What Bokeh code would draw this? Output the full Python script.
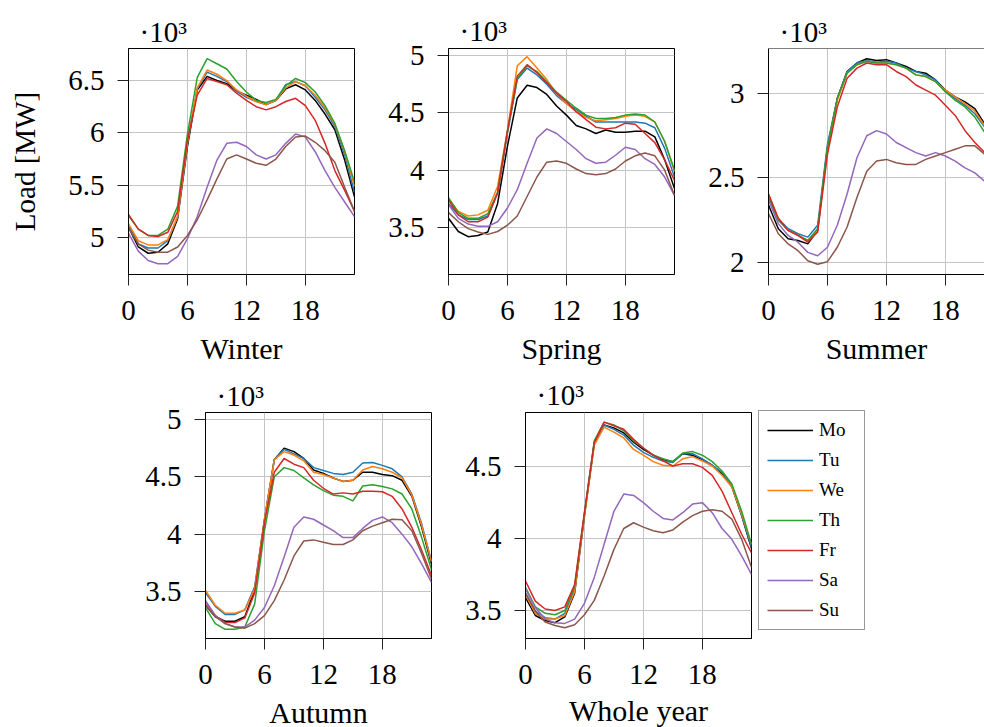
from bokeh.plotting import figure
from bokeh.layouts import row, column
from bokeh.models import (Range1d, FixedTicker, CustomJSTickFormatter,
                          Legend, LegendItem, Span, Title)
from bokeh.embed import file_html
from bokeh.resources import INLINE

FONT = "Liberation Serif"

hours = list(range(24))
days = ["Mo", "Tu", "We", "Th", "Fr", "Sa", "Su"]
colors = ["#000000", "#1f77b4", "#ff7f0e", "#2ca02c", "#d62728", "#9467bd", "#8c564b"]

# Load values in 10^3 MW, hours 0..23
winter_mo = [5.10, 4.91, 4.85, 4.86, 4.94, 5.18, 5.87, 6.41, 6.54, 6.50, 6.47, 6.40, 6.36, 6.32, 6.27, 6.31, 6.42, 6.46, 6.41, 6.31, 6.18, 6.03, 5.74, 5.39]
winter_tu = [5.12, 4.94, 4.90, 4.90, 4.97, 5.20, 5.90, 6.42, 6.58, 6.54, 6.49, 6.40, 6.34, 6.30, 6.27, 6.31, 6.46, 6.49, 6.45, 6.34, 6.22, 6.06, 5.79, 5.43]
winter_we = [5.13, 4.97, 4.93, 4.93, 4.98, 5.20, 5.91, 6.43, 6.60, 6.56, 6.50, 6.41, 6.35, 6.30, 6.27, 6.31, 6.43, 6.49, 6.45, 6.36, 6.24, 6.08, 5.82, 5.49]
winter_th = [5.21, 5.08, 5.02, 5.02, 5.08, 5.30, 5.99, 6.53, 6.71, 6.66, 6.61, 6.49, 6.39, 6.31, 6.29, 6.32, 6.45, 6.52, 6.48, 6.39, 6.26, 6.09, 5.83, 5.53]
winter_fr = [5.22, 5.08, 5.02, 5.01, 5.05, 5.25, 5.93, 6.36, 6.52, 6.49, 6.46, 6.38, 6.31, 6.25, 6.22, 6.25, 6.30, 6.33, 6.26, 6.12, 5.90, 5.64, 5.45, 5.25]
winter_sa = [5.04, 4.87, 4.78, 4.75, 4.75, 4.82, 4.99, 5.20, 5.48, 5.74, 5.90, 5.91, 5.87, 5.79, 5.75, 5.79, 5.90, 5.99, 5.96, 5.82, 5.64, 5.48, 5.34, 5.20]
winter_su = [5.09, 4.94, 4.88, 4.86, 4.86, 4.91, 5.02, 5.17, 5.36, 5.56, 5.75, 5.79, 5.75, 5.71, 5.69, 5.75, 5.87, 5.96, 5.97, 5.91, 5.83, 5.72, 5.48, 5.25]

spring_mo = [3.58, 3.465, 3.42, 3.43, 3.46, 3.71, 4.21, 4.63, 4.74, 4.72, 4.66, 4.56, 4.48, 4.39, 4.36, 4.32, 4.35, 4.33, 4.33, 4.34, 4.34, 4.29, 4.09, 3.84]
spring_tu = [3.71, 3.61, 3.57, 3.57, 3.60, 3.80, 4.32, 4.79, 4.89, 4.83, 4.75, 4.65, 4.58, 4.53, 4.47, 4.42, 4.42, 4.42, 4.42, 4.42, 4.41, 4.37, 4.19, 3.94]
spring_we = [3.75, 3.64, 3.60, 3.61, 3.65, 3.86, 4.35, 4.91, 4.99, 4.89, 4.79, 4.67, 4.58, 4.51, 4.46, 4.43, 4.44, 4.45, 4.47, 4.48, 4.47, 4.42, 4.25, 3.99]
spring_th = [3.76, 3.63, 3.58, 3.58, 3.62, 3.81, 4.34, 4.80, 4.91, 4.86, 4.77, 4.68, 4.61, 4.54, 4.48, 4.45, 4.45, 4.46, 4.48, 4.49, 4.48, 4.42, 4.25, 4.00]
spring_fr = [3.74, 3.61, 3.55, 3.55, 3.59, 3.80, 4.34, 4.82, 4.92, 4.85, 4.76, 4.67, 4.60, 4.51, 4.44, 4.375, 4.36, 4.37, 4.41, 4.40, 4.32, 4.24, 4.09, 3.91]
spring_sa = [3.70, 3.58, 3.53, 3.51, 3.51, 3.55, 3.67, 3.83, 4.06, 4.28, 4.36, 4.32, 4.25, 4.18, 4.10, 4.06, 4.07, 4.13, 4.20, 4.18, 4.10, 4.05, 3.94, 3.78]
spring_su = [3.63, 3.55, 3.49, 3.46, 3.44, 3.465, 3.52, 3.60, 3.77, 3.94, 4.07, 4.08, 4.06, 4.01, 3.97, 3.96, 3.97, 4.01, 4.08, 4.125, 4.15, 4.125, 4.00, 3.78]

summer_mo = [2.34, 2.20, 2.14, 2.13, 2.11, 2.19, 2.68, 2.97, 3.13, 3.18, 3.205, 3.195, 3.20, 3.18, 3.16, 3.13, 3.12, 3.08, 3.02, 2.98, 2.95, 2.91, 2.82, 2.70]
summer_tu = [2.37, 2.26, 2.20, 2.17, 2.15, 2.22, 2.70, 2.97, 3.13, 3.18, 3.195, 3.185, 3.19, 3.18, 3.15, 3.13, 3.11, 3.08, 3.01, 2.97, 2.93, 2.88, 2.80, 2.68]
summer_we = [2.405, 2.26, 2.19, 2.16, 2.13, 2.19, 2.67, 2.96, 3.12, 3.17, 3.19, 3.18, 3.18, 3.17, 3.15, 3.11, 3.10, 3.07, 3.02, 2.98, 2.94, 2.895, 2.81, 2.69]
summer_th = [2.385, 2.25, 2.19, 2.16, 2.13, 2.20, 2.68, 2.97, 3.12, 3.17, 3.19, 3.18, 3.18, 3.17, 3.15, 3.11, 3.10, 3.07, 3.01, 2.96, 2.92, 2.86, 2.77, 2.64]
summer_fr = [2.405, 2.26, 2.19, 2.16, 2.12, 2.18, 2.64, 2.92, 3.09, 3.15, 3.18, 3.17, 3.17, 3.13, 3.10, 3.05, 3.02, 2.99, 2.93, 2.87, 2.78, 2.71, 2.65, 2.58]
summer_sa = [2.37, 2.23, 2.16, 2.12, 2.06, 2.04, 2.09, 2.22, 2.405, 2.62, 2.75, 2.78, 2.76, 2.71, 2.68, 2.65, 2.63, 2.65, 2.63, 2.60, 2.56, 2.53, 2.48, 2.44]
summer_su = [2.29, 2.17, 2.11, 2.07, 2.01, 1.99, 2.005, 2.09, 2.21, 2.385, 2.54, 2.60, 2.61, 2.59, 2.58, 2.58, 2.61, 2.63, 2.65, 2.67, 2.69, 2.69, 2.64, 2.58]

autumn_mo = [3.38, 3.28, 3.24, 3.24, 3.28, 3.51, 4.12, 4.65, 4.75, 4.72, 4.66, 4.56, 4.53, 4.49, 4.46, 4.47, 4.54, 4.54, 4.52, 4.51, 4.47, 4.33, 4.06, 3.74]
autumn_tu = [3.49, 3.37, 3.30, 3.30, 3.34, 3.54, 4.13, 4.65, 4.74, 4.70, 4.66, 4.58, 4.555, 4.53, 4.52, 4.54, 4.62, 4.625, 4.60, 4.57, 4.50, 4.35, 4.09, 3.76]
autumn_we = [3.51, 3.38, 3.31, 3.31, 3.34, 3.52, 4.13, 4.65, 4.72, 4.69, 4.64, 4.54, 4.52, 4.49, 4.46, 4.47, 4.56, 4.59, 4.57, 4.54, 4.49, 4.34, 4.075, 3.76]
autumn_th = [3.36, 3.22, 3.17, 3.17, 3.19, 3.39, 4.03, 4.50, 4.58, 4.555, 4.49, 4.43, 4.38, 4.34, 4.33, 4.29, 4.42, 4.43, 4.415, 4.395, 4.35, 4.22, 3.97, 3.69]
autumn_fr = [3.41, 3.29, 3.23, 3.23, 3.27, 3.485, 4.10, 4.54, 4.66, 4.61, 4.58, 4.47, 4.40, 4.35, 4.36, 4.35, 4.375, 4.375, 4.37, 4.33, 4.22, 4.06, 3.86, 3.64]
autumn_sa = [3.42, 3.29, 3.22, 3.19, 3.19, 3.25, 3.36, 3.55, 3.80, 4.06, 4.15, 4.13, 4.08, 4.03, 3.97, 3.97, 4.05, 4.12, 4.15, 4.10, 4.00, 3.89, 3.74, 3.58]
autumn_su = [3.38, 3.28, 3.22, 3.19, 3.18, 3.22, 3.29, 3.42, 3.60, 3.81, 3.94, 3.95, 3.93, 3.91, 3.91, 3.95, 4.03, 4.07, 4.10, 4.13, 4.125, 4.03, 3.83, 3.61]

year_mo = [3.59, 3.465, 3.43, 3.415, 3.455, 3.62, 4.16, 4.66, 4.79, 4.77, 4.735, 4.67, 4.62, 4.58, 4.55, 4.535, 4.59, 4.58, 4.55, 4.51, 4.45, 4.36, 4.16, 3.93]
year_tu = [3.62, 3.495, 3.45, 3.44, 3.48, 3.65, 4.17, 4.67, 4.79, 4.76, 4.72, 4.65, 4.60, 4.565, 4.54, 4.53, 4.59, 4.59, 4.555, 4.51, 4.46, 4.37, 4.16, 3.94]
year_we = [3.61, 3.48, 3.44, 3.44, 3.465, 3.63, 4.16, 4.65, 4.775, 4.74, 4.70, 4.62, 4.58, 4.535, 4.51, 4.505, 4.555, 4.57, 4.54, 4.505, 4.44, 4.36, 4.17, 3.96]
year_th = [3.66, 3.525, 3.48, 3.47, 3.50, 3.67, 4.18, 4.68, 4.81, 4.79, 4.75, 4.68, 4.63, 4.58, 4.555, 4.535, 4.595, 4.605, 4.58, 4.535, 4.47, 4.38, 4.19, 3.96]
year_fr = [3.705, 3.565, 3.51, 3.50, 3.525, 3.68, 4.18, 4.67, 4.81, 4.785, 4.76, 4.69, 4.63, 4.58, 4.54, 4.505, 4.52, 4.52, 4.495, 4.44, 4.33, 4.18, 4.03, 3.90]
year_sa = [3.65, 3.52, 3.44, 3.415, 3.41, 3.44, 3.55, 3.73, 3.96, 4.19, 4.31, 4.30, 4.25, 4.19, 4.14, 4.13, 4.18, 4.24, 4.25, 4.18, 4.07, 3.995, 3.88, 3.75]
year_su = [3.62, 3.495, 3.42, 3.395, 3.38, 3.40, 3.47, 3.57, 3.74, 3.925, 4.07, 4.11, 4.08, 4.055, 4.04, 4.06, 4.115, 4.16, 4.19, 4.20, 4.19, 4.135, 3.995, 3.80]

x_ticks = [0, 6, 12, 18]
winter_yticks = [5000, 5500, 6000, 6500]
spring_yticks = [3500, 4000, 4500, 5000]
summer_yticks = [2000, 2500, 3000]
autumn_yticks = [3500, 4000, 4500, 5000]
year_yticks = [3500, 4000, 4500]
multiplier = "·10³"


def make_panel(xlabel, series, y_lo, y_hi, yticks, x_end, frame_w, left, right, top,
               bottom, ylabel=None, outline=True, title_standoff=2, xlab_standoff=9):
    p = figure(frame_width=frame_w, frame_height=226,
               x_range=Range1d(0, x_end), y_range=Range1d(y_lo, y_hi),
               output_backend="svg", toolbar_location=None,
               min_border_left=left, min_border_right=right,
               min_border_top=top, min_border_bottom=bottom)
    p.title = Title(text=multiplier, align="left", offset=11, standoff=title_standoff,
                    text_font=FONT, text_font_size="29px", text_font_style="normal",
                    text_color="black")
    p.background_fill_color = "white"
    p.border_fill_color = "white"
    p.outline_line_color = "black" if outline else None
    p.outline_line_width = 1
    p.xaxis.ticker = FixedTicker(ticks=x_ticks)
    p.yaxis.ticker = FixedTicker(ticks=yticks)
    p.yaxis.formatter = CustomJSTickFormatter(code="return (tick/1000).toString();")
    for ax in p.axis:
        ax.major_tick_in = 0
        ax.major_tick_out = 11
        ax.minor_tick_in = 0
        ax.minor_tick_out = 0
        ax.axis_line_color = "black"
        ax.axis_line_width = 1
        ax.major_tick_line_color = "#222222"
        ax.major_tick_line_width = 1
        ax.major_label_text_font = FONT
        ax.major_label_text_font_size = "29px"
        ax.major_label_text_color = "black"
        ax.axis_label_text_font = FONT
        ax.axis_label_text_font_style = "normal"
        ax.axis_label_text_color = "black"
    p.xaxis.major_label_standoff = 15
    p.yaxis.major_label_standoff = 13
    p.xaxis.axis_label = xlabel
    p.xaxis.axis_label_text_font_size = "30px"
    p.xaxis.axis_label_standoff = xlab_standoff
    if ylabel:
        p.yaxis.axis_label = ylabel
        p.yaxis.axis_label_text_font_size = "29px"
        p.yaxis.axis_label_standoff = 24
    p.xgrid.grid_line_color = "#c4c4c4"
    p.ygrid.grid_line_color = "#c4c4c4"
    p.xgrid.grid_line_width = 1
    p.ygrid.grid_line_width = 1
    if not outline:
        p.add_layout(Span(location=y_hi, dimension="width", line_color="black",
                          line_width=1))
    renderers = []
    for vals, c in zip(series, colors):
        r = p.line(hours, [v * 1000 for v in vals], line_color=c, line_width=1.5)
        renderers.append(r)
    return p, renderers


p_w, _ = make_panel("Winter",
                    [winter_mo, winter_tu, winter_we, winter_th, winter_fr, winter_sa, winter_su],
                    4647, 6806, winter_yticks, 23, 226, 128, 4, 48, 96, ylabel="Load [MW]")
p_sp, _ = make_panel("Spring",
                     [spring_mo, spring_tu, spring_we, spring_th, spring_fr, spring_sa, spring_su],
                     3090, 5061, spring_yticks, 23, 226, 90, 4, 42, 102, title_standoff=4)
p_su, _ = make_panel("Summer",
                     [summer_mo, summer_tu, summer_we, summer_th, summer_fr, summer_sa, summer_su],
                     1929, 3266, summer_yticks, 23 * 216 / 226, 216, 90, 0, 48, 96, outline=False)
p_au, _ = make_panel("Autumn",
                     [autumn_mo, autumn_tu, autumn_we, autumn_th, autumn_fr, autumn_sa, autumn_su],
                     3090, 5061, autumn_yticks, 23, 226, 205, 4, 42, 89, xlab_standoff=9)
p_yr, rs = make_panel("Whole year",
                      [year_mo, year_tu, year_we, year_th, year_fr, year_sa, year_su],
                      3305, 4877, year_yticks, 23, 226, 90, 120, 37, 94, title_standoff=4,
                      xlab_standoff=7)

legend = Legend(items=[LegendItem(label=d, renderers=[r]) for d, r in zip(days, rs)],
                location=(7, 8), margin=0, padding=8, spacing=8,
                glyph_width=46, glyph_height=22, label_height=22, label_width=37,
                label_standoff=6, label_text_font=FONT, label_text_font_size="19px",
                label_text_color="black", border_line_color="#333333", border_line_width=1,
                background_fill_color="white", background_fill_alpha=1)
p_yr.add_layout(legend, "right")

layout = column(row(p_w, p_sp, p_su, spacing=0), row(p_au, p_yr, spacing=0), spacing=0)

with open("out.html", "w") as f:
    f.write(file_html(layout, INLINE))
